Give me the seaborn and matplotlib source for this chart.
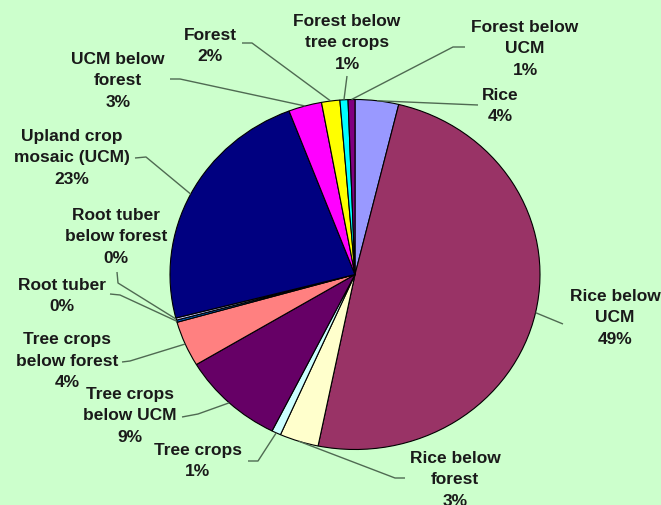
import numpy as np
import matplotlib
matplotlib.use("Agg")
import matplotlib.pyplot as plt
import seaborn as sns

# Land-use shares (percent of area), clockwise from 12 o'clock
categories = [
    "Rice", "Rice below\nUCM", "Rice below\nforest", "Tree crops",
    "Tree crops\nbelow UCM", "Tree crops\nbelow forest", "Root tuber",
    "Root tuber\nbelow forest", "Upland crop\nmosaic (UCM)", "UCM below\nforest",
    "Forest", "Forest below\ntree crops", "Forest below\nUCM",
]
shares = [3.8, 49.4, 3.4, 0.8, 9.0, 4.2, 0.2, 0.2, 23.2, 2.9, 1.6, 0.7, 0.6]
slice_colors = [
    "#9999FF", "#993366", "#FFFFCC", "#CCFFFF", "#660066", "#FF8080", "#0066CC",
    "#CCCCFF", "#000080", "#FF00FF", "#FFFF00", "#00FFFF", "#800080",
]

BG = "#CCFFCC"
sns.set_theme(style="white", rc={"figure.facecolor": BG, "axes.facecolor": BG})
plt.rcParams["font.family"] = ["Liberation Sans", "DejaVu Sans"]

W, H = 661, 505
CX, CY, RX, RY = 355.0, 274.5, 185.0, 175.0


def to_data(px, py):
    """Figure pixel position (origin top-left) -> pie data coordinates."""
    return (px - CX) / RX, (CY - py) / RY


fig = plt.figure(figsize=(W / 100, H / 100), dpi=100)
ax = fig.add_axes([0, 0, 1, 1])
palette = sns.color_palette(slice_colors)
wedges, _ = ax.pie(
    shares, colors=palette, startangle=90, counterclock=False, radius=1.0,
    center=(0, 0), wedgeprops=dict(edgecolor="black", linewidth=0.8),
)
ax.set_aspect("auto")
x0, y0 = to_data(0, H)
x1, y1 = to_data(W, 0)
ax.set_xlim(x0, x1)
ax.set_ylim(y0, y1)
ax.axis("off")

# label block centre and leader-line bend points (pixels)
label_layout = [
    ((500, 106), [(478, 105)]),
    ((615, 318), [(563, 324)]),
    ((455, 480), [(405, 478), (395, 478)]),
    ((198, 461), [(248, 461), (258, 461)]),
    ((130, 416), [(182, 417), (198, 414)]),
    ((67, 361), [(122, 362), (130, 361)]),
    ((62, 296), [(110, 294), (120, 295)]),
    ((116, 237), [(117, 272), (118, 283)]),
    ((72, 158), [(135, 158), (146, 157)]),
    ((118, 81), [(170, 79), (180, 79)]),
    ((210, 46), [(242, 43), (252, 43)]),
    ((347, 43), [(347, 76)]),
    ((525, 49), [(465, 47), (453, 47)]),
]

total = sum(shares)
line_color = "#4f6a52"
for w, name, value, (centre, bends) in zip(wedges, categories, shares, label_layout):
    pct = int(round(100 * value / total))
    tx, ty = to_data(*centre)
    ax.text(tx, ty, f"{name}\n{pct}%", ha="center", va="center",
            fontsize=12.5, fontweight="bold", color="#1a1a1a", linespacing=1.55)
    mid = np.deg2rad((w.theta1 + w.theta2) / 2)
    ax_, ay_ = np.cos(mid), np.sin(mid)
    pts = [to_data(*b) for b in bends] + [(ax_, ay_)]
    xs, ys = zip(*pts)
    ax.plot(xs, ys, color=line_color, lw=1.0, solid_capstyle="butt")

fig.savefig("out.png", dpi=100, facecolor=BG)
